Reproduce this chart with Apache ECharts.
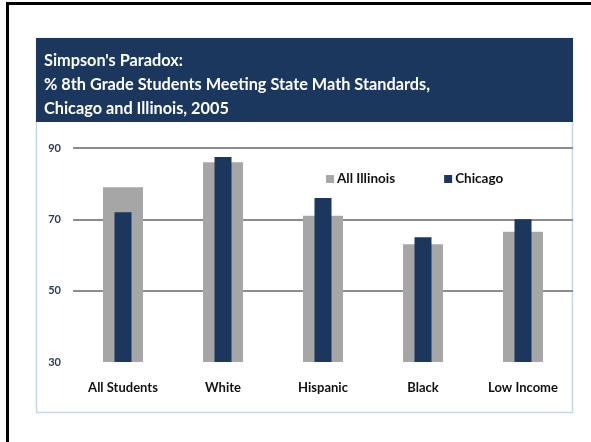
<!DOCTYPE html>
<html>
<head>
<meta charset="utf-8">
<script src="https://cdn.jsdelivr.net/npm/echarts@6/dist/echarts.min.js"></script>
<style>
html,body{margin:0;padding:0;background:#fff;}
#chart{width:591px;height:442px;}
</style>
</head>
<body>
<div id="chart"></div>
<script>
const categories = ['All Students', 'White', 'Hispanic', 'Black', 'Low Income'];
const allIllinois = [79, 86, 71, 63, 66.5];
const chicago = [72, 87.5, 76, 65, 70];
const yTicks = [30, 50, 70, 90];
const titleLines = ["Simpson's Paradox:", '% 8th Grade Students Meeting State Math Standards,', 'Chicago and Illinois, 2005'];

const navy = '#1c375e';
const grey = '#a6a6a6';
const chart = echarts.init(document.getElementById('chart'));
chart.setOption({
  animation: false,
  graphic: [
    {type: 'rect', shape: {x: 7.5, y: 3.5, width: 700, height: 600}, style: {fill: '#fff', stroke: '#000', lineWidth: 3}, z: -10},
    {type: 'rect', shape: {x: 36.5, y: 38.5, width: 536, height: 374}, style: {fill: '#fff', stroke: '#c6d5ea', lineWidth: 1.5}, z: -9},
    {type: 'rect', shape: {x: 36, y: 38, width: 537, height: 84}, style: {fill: navy}, z: -8}
  ],
  title: {
    text: titleLines.join('\n'),
    left: 39, top: 44,
    textStyle: {color: '#fff', fontFamily: 'Lato', fontWeight: 'bold', fontSize: 16.3, lineHeight: 24}
  },
  legend: {
    data: ['All Illinois', 'Chicago'],
    left: 321, top: 167,
    itemWidth: 8, itemHeight: 8, itemGap: 49,
    icon: 'rect',
    textStyle: {fontFamily: 'Lato', fontWeight: 'bold', fontSize: 13.5, color: '#111', padding: [0, 0, 0, -2]}
  },
  grid: {left: 73, right: 18, top: 148, bottom: 80},
  xAxis: [
    {type: 'category', data: categories, axisLine: {show: false}, axisTick: {show: false},
     axisLabel: {margin: 19, fontFamily: 'Lato', fontWeight: 'bold', fontSize: 13, color: '#111'}},
    {type: 'category', data: categories, show: false}
  ],
  yAxis: {
    type: 'value', min: yTicks[0], max: yTicks[yTicks.length - 1], interval: 20,
    axisLine: {show: false}, axisTick: {show: false},
    axisLabel: {margin: 12, fontFamily: 'Lato', fontWeight: 'bold', fontSize: 11, color: '#2a3a58'},
    splitLine: {show: true, lineStyle: {color: ['rgba(0,0,0,0)', '#8c8c8c', '#8c8c8c', '#8c8c8c'], width: 2}}
  },
  series: [
    {name: 'All Illinois', type: 'bar', xAxisIndex: 0, data: allIllinois, barWidth: 40, itemStyle: {color: grey}, z: 2},
    {name: 'Chicago', type: 'bar', xAxisIndex: 1, data: chicago, barWidth: 17, itemStyle: {color: navy}, z: 3}
  ]
});
</script>
</body>
</html>
